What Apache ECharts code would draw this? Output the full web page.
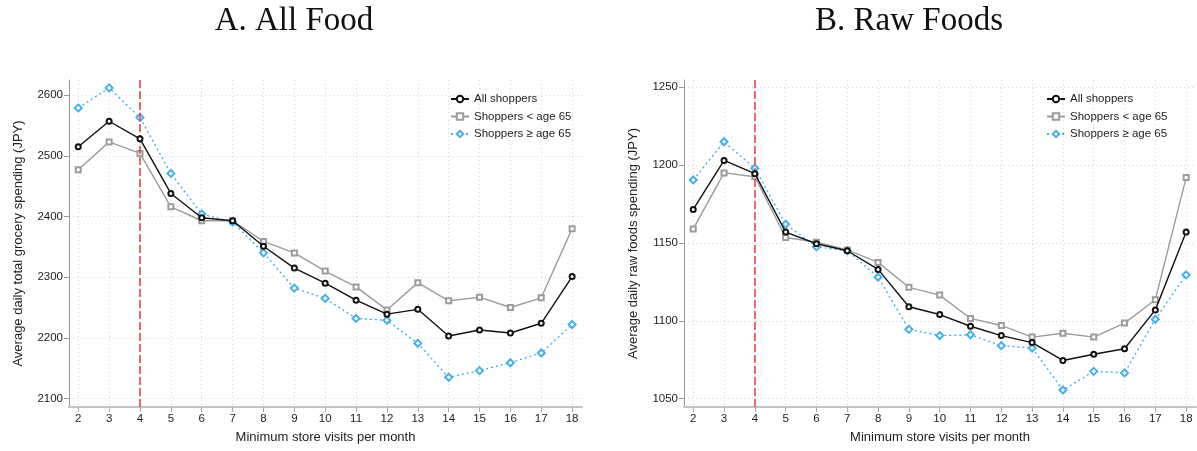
<!DOCTYPE html>
<html>
<head>
<meta charset="utf-8">
<script src="https://cdn.jsdelivr.net/npm/echarts@6/dist/echarts.min.js"></script>
<style>
  html, body { margin: 0; padding: 0; background: #fff; }
  #chart { width: 1197px; height: 451px; }
</style>
</head>
<body>
<div id="chart"></div>
<script>
// ---- data ----
const visits = [2, 3, 4, 5, 6, 7, 8, 9, 10, 11, 12, 13, 14, 15, 16, 17, 18];
const cutoff = 4;

// Panel A: All Food
const allFoodAll   = [2515, 2557, 2528, 2438, 2398, 2393, 2351, 2315, 2290, 2262, 2239, 2247, 2203, 2213, 2208, 2224, 2301];
const allFoodUnder = [2477, 2523, 2504, 2416, 2393, 2393, 2359, 2340, 2310, 2284, 2246, 2291, 2261, 2267, 2250, 2266, 2380];
const allFoodOver  = [2579, 2612, 2563, 2471, 2404, 2391, 2340, 2282, 2265, 2232, 2229, 2191, 2135, 2146, 2159, 2175, 2222];
const allFoodTicks = [2100, 2200, 2300, 2400, 2500, 2600];

// Panel B: Raw Foods
const rawAll   = [1171.5, 1203, 1194.5, 1157, 1149.5, 1145, 1133, 1109, 1104, 1096.5, 1090.5, 1086, 1074.5, 1078.5, 1082, 1107, 1157];
const rawUnder = [1159, 1195, 1192.5, 1153.5, 1150.5, 1145.5, 1137.5, 1121.5, 1116.5, 1101.5, 1097, 1089.5, 1092, 1089.5, 1098.5, 1113.5, 1192];
const rawOver  = [1190.5, 1215, 1198, 1162, 1147.5, 1145, 1128, 1094.5, 1090.5, 1091, 1084, 1082.5, 1055.5, 1067.5, 1066.5, 1101, 1129.5];
const rawTicks = [1050, 1100, 1150, 1200, 1250];

const titles = ['A. All Food', 'B. Raw Foods'];
const yNames = ['Average daily total grocery spending (JPY)', 'Average daily raw foods spending (JPY)'];
const xName = 'Minimum store visits per month';
const seriesNames = ['All shoppers', 'Shoppers < age 65', 'Shoppers \u2265 age 65'];

// ---- styling ----
const C_ALL = '#111111', C_UNDER = '#9c9c9c', C_OVER = '#47b0ea', C_RED = 'rgba(232,70,70,0.8)';
const FONT = 'Liberation Sans, Arial, Helvetica, sans-serif';
const pair = vals => vals.map((v, i) => [visits[i], v]);

function xAxisFor(gi) {
  return {
    type: 'value', gridIndex: gi, min: 1.7, max: 18.32,
    name: xName, nameLocation: 'middle', nameGap: 24,
    nameTextStyle: { fontFamily: FONT, fontSize: 13, color: '#222' },
    axisLine: { show: true, lineStyle: { color: '#c4c4c4', width: 2 } },
    axisTick: { show: true, length: 5, customValues: visits, lineStyle: { color: '#aaa' } },
    axisLabel: { customValues: visits, fontFamily: FONT, fontSize: 11.5, color: '#222', margin: 6,
                 formatter: v => String(v) },
    splitLine: { show: true, lineStyle: { color: '#d6d6d6', type: [1, 3], width: 1 } }
  };
}
function yAxisFor(gi, min, max, ticks) {
  return {
    type: 'value', gridIndex: gi, min: min, max: max,
    name: yNames[gi], nameLocation: 'middle', nameGap: 44,
    nameTextStyle: { fontFamily: FONT, fontSize: 13, color: '#222' },
    axisLine: { show: true, lineStyle: { color: '#999', width: 1 } },
    axisTick: { show: true, length: 5, customValues: ticks, lineStyle: { color: '#999' } },
    axisLabel: { customValues: ticks, fontFamily: FONT, fontSize: 11.5, color: '#222', margin: 6,
                 formatter: v => String(v) },
    splitLine: { show: true, lineStyle: { color: '#d6d6d6', type: [1, 3], width: 1 } }
  };
}
function mkSeries(gi, vals, k, withMark) {
  const styles = [
    { color: C_ALL, symbol: 'emptyCircle', size: 5, type: 'solid', width: 1.4 },
    { color: C_UNDER, symbol: 'emptyRect', size: 5, type: 'solid', width: 1.4 },
    { color: C_OVER, symbol: 'emptyDiamond', size: 7, type: [2, 3], width: 1.4 }
  ][k];
  const s = {
    type: 'line', name: seriesNames[k], xAxisIndex: gi, yAxisIndex: gi,
    data: pair(vals), symbol: styles.symbol, symbolSize: styles.size,
    showAllSymbol: true, z: k === 0 ? 8 : 5 - k,
    lineStyle: { color: styles.color, width: styles.width, type: styles.type },
    itemStyle: { color: styles.color, borderColor: styles.color, borderWidth: 1.1 },
    emphasis: { disabled: true }, animation: false
  };
  if (withMark) {
    s.markLine = {
      silent: true, symbol: 'none', label: { show: false }, animation: false,
      lineStyle: { color: C_RED, type: [8, 3], width: 2 },
      data: [{ xAxis: cutoff }]
    };
  }
  return s;
}
function legendFor(left) {
  return {
    orient: 'vertical', left: left, top: 88, itemGap: 5.5,
    itemWidth: 18, itemHeight: 8, data: seriesNames,
    textStyle: { fontFamily: FONT, fontSize: 11.5, color: '#222', padding: [0, 0, 0, 0] },
    selectedMode: false
  };
}

const option = {
  backgroundColor: '#fff',
  animation: false,
  title: [
    { text: titles[0], left: 289, top: 0, textAlign: 'center',
      textStyle: { fontFamily: 'Liberation Serif, Times New Roman, serif', fontWeight: 'normal', fontSize: 33, color: '#111' } },
    { text: titles[1], left: 904, top: 0, textAlign: 'center',
      textStyle: { fontFamily: 'Liberation Serif, Times New Roman, serif', fontWeight: 'normal', fontSize: 33, color: '#111' } }
  ],
  legend: [legendFor(445), legendFor(1041)],
  grid: [
    { left: 69, top: 80, width: 513, height: 327 },
    { left: 684, top: 80, width: 512, height: 327 }
  ],
  xAxis: [xAxisFor(0), xAxisFor(1)],
  yAxis: [yAxisFor(0, 2086, 2625, allFoodTicks), yAxisFor(1, 1044.6, 1254.7, rawTicks)],
  series: [
    mkSeries(0, allFoodAll, 0, true),
    mkSeries(0, allFoodUnder, 1, false),
    mkSeries(0, allFoodOver, 2, false),
    mkSeries(1, rawAll, 0, true),
    mkSeries(1, rawUnder, 1, false),
    mkSeries(1, rawOver, 2, false)
  ]
};

const chart = echarts.init(document.getElementById('chart'), null, { renderer: 'canvas' });
chart.setOption(option);
</script>
</body>
</html>
